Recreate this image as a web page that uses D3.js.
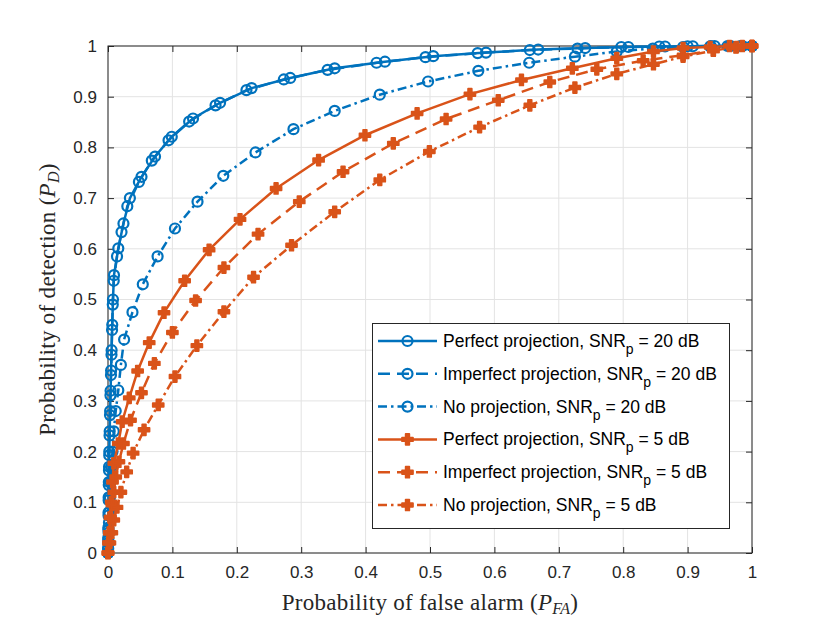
<!DOCTYPE html>
<html>
<head>
<meta charset="utf-8">
<script src="https://d3js.org/d3.v7.min.js"></script>
<style>
  body { margin: 0; background: #fff; }
</style>
</head>
<body>
<script>
// ROC data (x = P_FA, y = P_D)
const perf20X = [0, 0.0002, 0.0004, 0.0006, 0.0008, 0.001, 0.0013, 0.0016, 0.002, 0.0026, 0.0033, 0.004, 0.0048, 0.0056, 0.0066, 0.0077, 0.0093, 0.016, 0.024, 0.034, 0.052, 0.073, 0.099, 0.132, 0.174, 0.223, 0.283, 0.352, 0.430, 0.505, 0.587, 0.668, 0.741, 0.808, 0.865, 0.908, 0.942, 0.967, 0.985, 1];
const perf20Y = [0, 0.01, 0.03, 0.05, 0.08, 0.11, 0.14, 0.17, 0.20, 0.24, 0.28, 0.32, 0.36, 0.40, 0.45, 0.50, 0.548, 0.601, 0.650, 0.700, 0.742, 0.782, 0.821, 0.857, 0.888, 0.917, 0.937, 0.956, 0.969, 0.980, 0.987, 0.993, 0.996, 0.998, 0.999, 0.9995, 1, 1, 1, 1];

const imp20X = [0, 0.0002, 0.0004, 0.0006, 0.0008, 0.001, 0.0012, 0.0015, 0.0019, 0.0024, 0.0031, 0.0038, 0.0046, 0.0054, 0.0063, 0.0074, 0.0089, 0.014, 0.021, 0.030, 0.048, 0.068, 0.094, 0.126, 0.167, 0.215, 0.273, 0.341, 0.417, 0.493, 0.574, 0.655, 0.729, 0.797, 0.856, 0.900, 0.936, 0.962, 0.982, 1];
const imp20Y = [0, 0.008, 0.026, 0.046, 0.074, 0.104, 0.134, 0.163, 0.193, 0.232, 0.272, 0.311, 0.351, 0.391, 0.440, 0.490, 0.537, 0.585, 0.633, 0.684, 0.732, 0.774, 0.814, 0.851, 0.883, 0.913, 0.934, 0.953, 0.967, 0.978, 0.986, 0.992, 0.995, 0.998, 0.999, 0.9995, 1, 1, 1, 1];

const no20X = [0, 0.0005, 0.001, 0.0015, 0.002, 0.003, 0.004, 0.005, 0.007, 0.009, 0.012, 0.016, 0.020, 0.025, 0.038, 0.054, 0.077, 0.104, 0.139, 0.179, 0.229, 0.288, 0.352, 0.422, 0.497, 0.575, 0.654, 0.725, 0.790, 0.846, 0.893, 0.935, 0.965, 0.985, 1];
const no20Y = [0, 0.02, 0.04, 0.06, 0.08, 0.11, 0.14, 0.17, 0.20, 0.24, 0.28, 0.321, 0.371, 0.421, 0.475, 0.530, 0.585, 0.640, 0.693, 0.744, 0.790, 0.836, 0.872, 0.904, 0.930, 0.951, 0.967, 0.979, 0.989, 0.995, 0.998, 0.999, 1, 1, 1];

const perf5X = [0, 0.001, 0.002, 0.003, 0.005, 0.007, 0.009, 0.016, 0.022, 0.033, 0.046, 0.064, 0.087, 0.119, 0.157, 0.205, 0.261, 0.327, 0.399, 0.480, 0.562, 0.642, 0.721, 0.790, 0.847, 0.893, 0.935, 0.965, 0.985, 1];
const perf5Y = [0, 0.02, 0.04, 0.07, 0.10, 0.14, 0.177, 0.216, 0.259, 0.306, 0.359, 0.415, 0.474, 0.537, 0.598, 0.658, 0.719, 0.775, 0.824, 0.867, 0.905, 0.933, 0.956, 0.976, 0.989, 0.996, 0.998, 1, 1, 1];

const imp5X = [0, 0.001, 0.002, 0.004, 0.006, 0.009, 0.012, 0.017, 0.024, 0.035, 0.052, 0.072, 0.100, 0.136, 0.180, 0.233, 0.297, 0.365, 0.443, 0.525, 0.606, 0.686, 0.759, 0.831, 0.893, 0.940, 0.975, 1];
const imp5Y = [0, 0.02, 0.04, 0.07, 0.095, 0.12, 0.15, 0.18, 0.216, 0.262, 0.316, 0.374, 0.435, 0.498, 0.563, 0.629, 0.693, 0.752, 0.808, 0.856, 0.893, 0.929, 0.954, 0.971, 0.982, 0.991, 0.997, 1];

const no5X = [0, 0.003, 0.006, 0.009, 0.014, 0.020, 0.029, 0.039, 0.056, 0.078, 0.104, 0.138, 0.180, 0.226, 0.285, 0.352, 0.422, 0.499, 0.577, 0.655, 0.725, 0.790, 0.847, 0.893, 0.940, 0.976, 1];
const no5Y = [0, 0.02, 0.04, 0.065, 0.09, 0.12, 0.160, 0.197, 0.243, 0.292, 0.348, 0.409, 0.476, 0.544, 0.607, 0.673, 0.736, 0.792, 0.840, 0.883, 0.918, 0.945, 0.964, 0.979, 0.991, 0.998, 1];

const seriesNames = ["Perfect projection, SNR", "Imperfect projection, SNR", "No projection, SNR",
                     "Perfect projection, SNR", "Imperfect projection, SNR", "No projection, SNR"];
const seriesSnr = ["20", "20", "20", "5", "5", "5"];
const tickVals = [0, 0.1, 0.2, 0.3, 0.4, 0.5, 0.6, 0.7, 0.8, 0.9, 1];

const blue = "#0072BD", orange = "#D95319";
const series = [
  {x: perf20X, y: perf20Y, color: blue, dash: null, marker: "o"},
  {x: imp20X, y: imp20Y, color: blue, dash: "12,7", marker: "o"},
  {x: no20X, y: no20Y, color: blue, dash: "9,4,2.5,4", marker: "o"},
  {x: perf5X, y: perf5Y, color: orange, dash: null, marker: "+"},
  {x: imp5X, y: imp5Y, color: orange, dash: "12,7", marker: "+"},
  {x: no5X, y: no5Y, color: orange, dash: "9,4,2.5,4", marker: "+"}
];

const W = 830, H = 623;
const pLeft = 108, pRight = 752, pTop = 46, pBottom = 553;
const sans = "'Liberation Sans', Arial, sans-serif";
const serif = "'Liberation Serif', 'DejaVu Serif', serif";

const svg = d3.select("body").append("svg")
  .attr("width", W).attr("height", H);

const x = d3.scaleLinear().domain([0, 1]).range([pLeft, pRight]);
const y = d3.scaleLinear().domain([0, 1]).range([pBottom, pTop]);

// grid
const grid = svg.append("g").attr("stroke", "#e3e3e3").attr("stroke-width", 1);
tickVals.forEach(t => {
  grid.append("line").attr("x1", x(t)).attr("x2", x(t)).attr("y1", pTop).attr("y2", pBottom);
  grid.append("line").attr("y1", y(t)).attr("y2", y(t)).attr("x1", pLeft).attr("x2", pRight);
});

// axes
const fmt = d => d === 0 ? "0" : d === 1 ? "1" : d3.format(".1f")(d);
svg.append("g").attr("transform", `translate(0,${pBottom})`)
  .call(d3.axisBottom(x).tickValues(tickVals).tickFormat(fmt).tickSizeInner(-6).tickSizeOuter(0).tickPadding(13));
svg.append("g").attr("transform", `translate(${pLeft},0)`)
  .call(d3.axisLeft(y).tickValues(tickVals).tickFormat(fmt).tickSizeInner(-6).tickSizeOuter(0).tickPadding(11));
svg.append("g").attr("transform", `translate(0,${pTop})`)
  .call(d3.axisTop(x).tickValues(tickVals).tickFormat("").tickSizeInner(-6).tickSizeOuter(0));
svg.append("g").attr("transform", `translate(${pRight},0)`)
  .call(d3.axisRight(y).tickValues(tickVals).tickFormat("").tickSizeInner(-6).tickSizeOuter(0));
svg.selectAll(".domain").remove();
svg.selectAll(".tick line").attr("stroke", "#262626");
svg.selectAll(".tick text").attr("font-size", 17).attr("fill", "#262626")
  .attr("font-family", sans);
svg.append("rect").attr("x", pLeft).attr("y", pTop)
  .attr("width", pRight - pLeft).attr("height", pBottom - pTop)
  .attr("fill", "none").attr("stroke", "#262626").attr("stroke-width", 1);

// curves
const plot = svg.append("g");
const line = d3.line().x(d => x(d[0])).y(d => y(d[1]));
const cross = d3.symbol().type(d3.symbolCross).size(66);

function drawMarker(g, m, color, cx, cy) {
  if (m === "o") {
    g.append("circle").attr("cx", cx).attr("cy", cy).attr("r", 5)
      .attr("fill", "none").attr("stroke", color).attr("stroke-width", 2.2);
  } else {
    g.append("path").attr("d", cross()).attr("transform", `translate(${cx},${cy})`)
      .attr("fill", color).attr("stroke", color).attr("stroke-width", 1.8)
      .attr("stroke-linejoin", "round");
  }
}

[0, 1, 2, 3, 4, 5].forEach(i => {
  const s = series[i];
  const pts = s.x.map((v, k) => [v, s.y[k]]);
  const g = plot.append("g");
  g.append("path").datum(pts).attr("d", line)
    .attr("fill", "none").attr("stroke", s.color).attr("stroke-width", 2.5)
    .attr("stroke-dasharray", s.dash);
  pts.forEach(p => drawMarker(g, s.marker, s.color, x(p[0]), y(p[1])));
});

// legend
const lg = svg.append("g");
lg.append("rect").attr("x", 372.5).attr("y", 323.5).attr("width", 357).attr("height", 205)
  .attr("fill", "#fff").attr("stroke", "#262626").attr("stroke-width", 1);
series.forEach((s, i) => {
  const ly = 341 + i * 32.8;
  lg.append("line").attr("x1", 378).attr("x2", 437).attr("y1", ly).attr("y2", ly)
    .attr("stroke", s.color).attr("stroke-width", 2.5).attr("stroke-dasharray", s.dash);
  drawMarker(lg, s.marker, s.color, 407.5, ly);
  const t = lg.append("text").attr("x", 443).attr("y", ly + 6)
    .attr("font-family", sans).attr("font-size", 17.5).attr("fill", "#000");
  t.append("tspan").text(seriesNames[i]);
  t.append("tspan").attr("dy", 7).attr("font-size", 14).text("p");
  t.append("tspan").attr("dy", -7).text(" = " + seriesSnr[i] + " dB");
});

// axis labels
const xl = svg.append("text").attr("x", 430).attr("y", 610).attr("text-anchor", "middle")
  .attr("font-family", serif).attr("font-size", 23).attr("letter-spacing", 0.3).attr("fill", "#262626");
xl.append("tspan").text("Probability of false alarm (");
xl.append("tspan").attr("font-style", "italic").text("P");
xl.append("tspan").attr("font-style", "italic").attr("font-size", 16).attr("dy", 4).text("FA");
xl.append("tspan").attr("dy", -4).text(")");

const yl = svg.append("text").attr("transform", `translate(55,${(pTop + pBottom) / 2}) rotate(-90)`)
  .attr("text-anchor", "middle")
  .attr("font-family", serif).attr("font-size", 23).attr("letter-spacing", 0.3).attr("fill", "#262626");
yl.append("tspan").text("Probability of detection (");
yl.append("tspan").attr("font-style", "italic").text("P");
yl.append("tspan").attr("font-style", "italic").attr("font-size", 16).attr("dy", 4).text("D");
yl.append("tspan").attr("dy", -4).text(")");
</script>
</body>
</html>
